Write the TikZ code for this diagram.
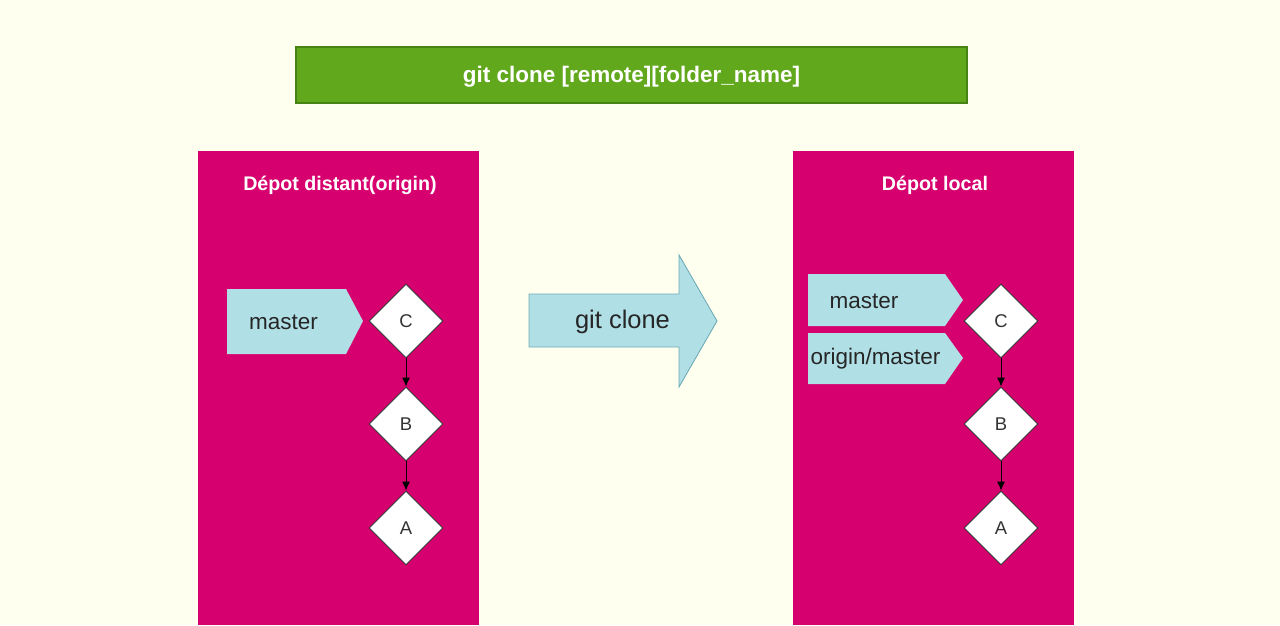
\documentclass[tikz,border=0pt]{standalone}
\usepackage{fontspec}
\setmainfont{Liberation Sans}
\usetikzlibrary{arrows.meta,positioning,shapes.geometric}
\definecolor{bgcream}{RGB}{255,255,240}
\definecolor{barGreen}{RGB}{98,168,29}
\definecolor{barEdge}{RGB}{70,130,20}
\definecolor{repoMag}{RGB}{214,0,110}
\definecolor{tagCyan}{RGB}{176,224,230}
\definecolor{tagEdge}{RGB}{110,170,180}
\tikzset{
  repo-box/.style={fill=repoMag},
  repo-title/.style={text=white,font=\fontsize{11.2}{13}\selectfont\bfseries},
  tag-box/.style={fill=tagCyan},
  tag-text/.style={font=\fontsize{12.8}{15}\selectfont,text=black!85,inner sep=0pt},
  commit/.style={draw=black!80,fill=white,diamond,minimum size=1.48cm,inner sep=0pt,line width=0.5pt,font=\fontsize{10.5}{12}\selectfont,text=black!80},
  parent/.style={-{Latex[length=1.8mm,width=1.6mm]},line width=0.5pt,black},
}

\begin{document}
\begin{tikzpicture}[x=0.02cm,y=-0.02cm]

  \useasboundingbox[fill=bgcream] (0,0) rectangle (1280,625);

  % commande
  \filldraw[fill=barGreen,draw=barEdge,line width=0.6pt] (296,47) rectangle (967,103);
  \node[text=white,font=\fontsize{12.8}{15}\selectfont\bfseries] (cmd) at (631.5,77) {git clone [remote][folder\_name]};

  % DEPOT DISTANT
  \path[repo-box] (198,151) rectangle (479,625);
  \node[repo-title] (distant) at (340,185) {Dépot distant(origin)};
  \path[tag-box] (227,289) -- (346,289) -- (363,321) -- (346,354) -- (227,354) -- cycle;
  \node[tag-text] (mstD) at (283.5,322) {master};
  \node[commit] (cD) at (406,321) {C};
  \node[commit] (bD) at (406,424) {B};
  \node[commit] (aD) at (406,528) {A};
  \draw[parent] (cD) -- (bD);
  \draw[parent] (bD) -- (aD);

  % fleche
  \filldraw[fill=tagCyan,draw=tagEdge,line width=0.5pt]
    (529,294) -- (679,294) -- (679,255) -- (717,321) -- (679,387) -- (679,347) -- (529,347) -- cycle;
  \node[tag-text,font=\fontsize{14.5}{17}\selectfont] (clone) at (622.5,322) {git clone};

  % DEPOT LOCAL
  \path[repo-box] (793,151) rectangle (1074,625);
  \node[repo-title] (local) at (935,185) {Dépot local};
  \path[tag-box] (808,274) -- (945,274) -- (963,300) -- (945,326) -- (808,326) -- cycle;
  \node[tag-text] (mstL) at (864,301) {master};
  \path[tag-box] (808,333) -- (945,333) -- (963,358) -- (945,384) -- (808,384) -- cycle;
  \node[tag-text] (orgL) at (875.5,359) {origin/master};
  \node[commit] (cL) at (1001,321) {C};
  \node[commit] (bL) at (1001,424) {B};
  \node[commit] (aL) at (1001,528) {A};
  \draw[parent] (cL) -- (bL);
  \draw[parent] (bL) -- (aL);

\end{tikzpicture}
\end{document}
